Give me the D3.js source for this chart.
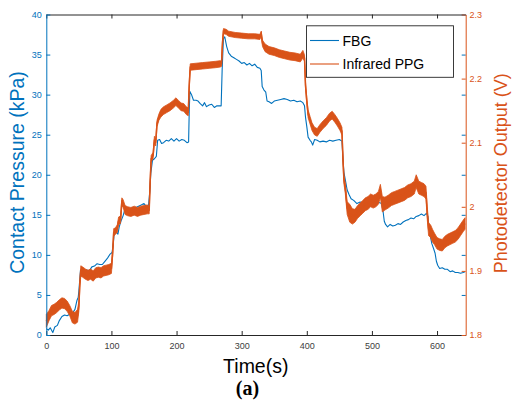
<!DOCTYPE html>
<html><head><meta charset="utf-8">
<script src="https://cdn.jsdelivr.net/npm/d3@7/dist/d3.min.js"></script>
<style>body{margin:0;background:#fff}svg{display:block}text{font-family:"Liberation Sans",Arial,sans-serif}</style>
</head><body>
<svg id="c" width="513" height="408"></svg>
<script>
// ---- data ----
const fbgTime = [0,3,6,10,13,17,20,24,28,32,36,40,44,47,49,50,51.5,52.5,55,58,62,66,70,74,78,82,86,90,94,98,101,103,104,107,110,112,115,118,120,124,128,132,136,140,145,150,154,157,159,160.5,163,166,169,171,174,177,180,184,188,192,196,200,204,208,212,216,218.5,219.5,220.5,223,226,230,233,236,240,243,246,250,254,258,262,266,268.5,270,272,274,277,280,284,288,292,296,300,304,308,312,316,320,324,328,330,331.5,334,337,339,342,346,350,355,360,365,370,375,380,385,390,394,396.5,398,400,402,405,407,409,412,416,420,425,430,435,440,445,450,454,455.5,457,460,462,465,468,472,477,482,487,492,497,502,507,512,515,517,519,521,524,528,532,536,540,544,548,552,556,560,564,568,572,576,580,584,586,588,590,592,595,597,599,601,604,608,612,616,620,624,628,632,636,640,643];
const fbgPressure = [0.8,0.6,0.9,0.3,1.0,1.2,1.8,2.3,2.5,2.4,2.6,2.7,3.2,4.3,4.7,5.5,7.0,8.1,7.8,7.9,8.1,8.0,8.5,8.6,8.9,8.8,8.8,9.2,9.6,10.1,10.3,11.5,12.5,12.9,12.6,13.5,14.3,14.9,15.5,15.9,15.7,15.9,15.8,16.0,16.2,16.4,16.0,16.2,18,20.2,21.8,22.0,22.3,24.3,24.4,23.9,24.0,24.3,24.2,24.5,24.2,24.5,24.2,24.4,24.3,24.0,24.1,28,30.4,30.0,29.3,29.3,29.2,28.9,28.6,29.0,28.5,28.7,28.8,28.4,28.6,28.6,28.6,33,37.0,37.2,36.0,35.2,34.8,34.6,34.4,34.2,33.9,34.0,33.7,33.9,33.6,33.8,33.4,33.3,33.0,31.0,30.6,30.3,29.2,29.1,28.9,29.2,29.3,29.4,29.5,29.4,29.2,29.3,29.1,29.2,29.0,28.6,27.2,26.0,24.7,24.3,24.1,23.7,24.4,24.3,24.1,24.2,24.1,24.3,24.2,24.3,24.4,24.2,22.0,20.3,19.0,18.1,17.5,17.0,16.8,16.4,16.6,16.5,16.7,16.8,16.7,16.6,16.5,16.4,15.5,14.2,13.8,13.5,13.8,13.6,13.7,13.9,13.8,14.1,14.3,14.4,14.6,14.5,14.8,14.9,15.1,14.9,15.2,14.8,13.2,12.2,11.4,10.7,10.2,9.2,8.7,8.3,8.4,8.2,8.2,7.9,8.0,7.8,7.8,7.7,7.8,7.9];

const ppgTime = [0,4,8,12,16,20,24,28,32,36,40,44,48,50,51.5,53,56,60,64,68,72,76,80,84,88,92,96,100,102,103.5,106,109,111,114,116,118,121,125,130,135,140,145,150,155,158,159.5,161,164,166,168,170,173,176,180,185,190,195,199,203,207,211,215,218,219.5,221,230,240,250,260,267,269,270.5,272,276,280,290,300,310,320,328,330,332,336,342,350,358,366,374,382,390,394,396.5,398,400,402,405,408,412,416,420,425,430,435,439,443,447,451,454,455.5,457,459,462,466,470,474,478,482,486,490,494,498,502,506,510,513,516,520,525,530,535,540,545,550,555,560,565,568,572,576,580,583,585,587,590,593,596,600,604,608,612,616,620,624,628,632,636,640,643];
const ppgVolt = [1.822,1.830,1.838,1.840,1.843,1.847,1.850,1.849,1.845,1.838,1.828,1.826,1.830,1.845,1.880,1.900,1.898,1.895,1.893,1.895,1.892,1.897,1.898,1.897,1.900,1.901,1.902,1.904,1.930,1.960,1.962,1.966,1.978,1.980,2.008,2.005,1.995,1.993,1.992,1.994,1.992,1.994,1.995,1.996,1.995,2.040,2.075,2.080,2.105,2.100,2.130,2.140,2.146,2.150,2.153,2.156,2.160,2.164,2.160,2.156,2.155,2.150,2.148,2.190,2.218,2.219,2.220,2.221,2.222,2.223,2.223,2.255,2.274,2.273,2.270,2.268,2.267,2.266,2.266,2.265,2.270,2.255,2.248,2.244,2.242,2.239,2.237,2.235,2.234,2.232,2.238,2.232,2.190,2.165,2.145,2.135,2.125,2.118,2.116,2.122,2.128,2.133,2.140,2.143,2.138,2.132,2.125,2.118,2.075,2.042,2.030,1.998,1.990,1.985,1.986,1.992,1.996,2.000,2.004,2.006,2.010,2.008,2.010,2.014,2.025,2.004,2.005,2.008,2.012,2.014,2.016,2.018,2.020,2.024,2.026,2.030,2.040,2.030,2.028,2.026,2.022,1.990,1.965,1.962,1.955,1.950,1.943,1.941,1.940,1.945,1.948,1.950,1.952,1.954,1.958,1.964,1.970,1.974];
// half-width of the noise band of the PPG trace (V)
const ppgNoise = [0.010,0.008,0.008,0.008,0.008,0.008,0.008,0.008,0.008,0.008,0.009,0.009,0.010,0.008,0.006,0.008,0.008,0.008,0.008,0.008,0.008,0.008,0.008,0.008,0.008,0.008,0.008,0.008,0.006,0.006,0.005,0.006,0.006,0.006,0.006,0.006,0.007,0.007,0.007,0.007,0.007,0.007,0.007,0.007,0.006,0.005,0.005,0.005,0.005,0.005,0.005,0.005,0.006,0.006,0.006,0.006,0.006,0.006,0.006,0.006,0.006,0.006,0.006,0.005,0.005,0.005,0.005,0.005,0.005,0.005,0.004,0.004,0.004,0.004,0.004,0.004,0.004,0.004,0.004,0.004,0.004,0.005,0.006,0.006,0.006,0.006,0.006,0.006,0.006,0.006,0.006,0.005,0.005,0.005,0.006,0.006,0.006,0.006,0.006,0.006,0.006,0.006,0.006,0.006,0.006,0.006,0.006,0.006,0.006,0.006,0.008,0.010,0.014,0.012,0.010,0.010,0.010,0.010,0.010,0.010,0.010,0.010,0.010,0.010,0.010,0.012,0.010,0.010,0.010,0.010,0.010,0.010,0.010,0.010,0.010,0.010,0.010,0.010,0.010,0.010,0.010,0.010,0.010,0.010,0.010,0.009,0.009,0.009,0.009,0.009,0.009,0.009,0.009,0.009,0.009,0.009,0.009,0.009,0.009];

const xTicks = [0,100,200,300,400,500,600];
const leftTicks = [0,5,10,15,20,25,30,35,40];
const rightTicks = [1.8,1.9,2.0,2.1,2.2,2.3];
const legendLabels = ["FBG","Infrared PPG"];

// ---- drawing ----
const BLUE = "#0072BD", ORANGE = "#D95319", DARK = "#262626";
const L = 46.3, R = 465.7, T = 14.5, B = 335;
const svg = d3.select("#c");
const x = d3.scaleLinear().domain([0,644]).range([L,R]);
const yL = d3.scaleLinear().domain([0,40]).range([B,T]);
const yR = d3.scaleLinear().domain([1.8,2.3]).range([B,T]);

const fbg = fbgTime.map((t,i)=>({t, v:fbgPressure[i]}));
const ppg = ppgTime.map((t,i)=>({t, v:ppgVolt[i], n:ppgNoise[i]}));

const plot = svg.append("g");
plot.append("path").datum(fbg)
  .attr("d", d3.line().x(d=>x(d.t)).y(d=>yL(d.v)))
  .attr("fill","none").attr("stroke",BLUE).attr("stroke-width",1.1).attr("stroke-linejoin","round");
plot.append("path").datum(ppg)
  .attr("d", d3.area().x(d=>x(d.t)).y0(d=>yR(d.v-d.n)).y1(d=>yR(d.v+d.n)))
  .attr("fill",ORANGE).attr("stroke",ORANGE).attr("stroke-width",0.8).attr("stroke-linejoin","round");
plot.append("path").datum(ppg)
  .attr("d", d3.line().x(d=>x(d.t)).y(d=>yR(d.v)))
  .attr("fill","none").attr("stroke",ORANGE).attr("stroke-width",1.5);

function style(g, color){
  g.selectAll("path.domain").attr("stroke",color).attr("stroke-width",1);
  g.selectAll(".tick line").attr("stroke",color).attr("stroke-width",1);
  g.selectAll(".tick text").attr("fill",color).attr("font-family","Liberation Sans, Arial, sans-serif").attr("font-size",9);
}
// bottom
const gB = svg.append("g").attr("transform",`translate(0,${B})`)
  .call(d3.axisBottom(x).tickValues(xTicks).tickSize(-4).tickSizeOuter(0).tickPadding(8).tickFormat(d3.format("d")));
style(gB, DARK); gB.selectAll(".tick text").attr("fill","#404040");
// top
const gT = svg.append("g").attr("transform",`translate(0,${T})`)
  .call(d3.axisTop(x).tickValues(xTicks).tickSize(-4).tickSizeOuter(0).tickFormat(""));
style(gT, DARK);
// right: mirrored left ticks (blue)
const gRL = svg.append("g").attr("transform",`translate(${R},0)`)
  .call(d3.axisRight(yL).tickValues(leftTicks).tickSize(-4).tickSizeOuter(0).tickFormat(""));
style(gRL, BLUE); gRL.select("path.domain").remove();
// left
const gL = svg.append("g").attr("transform",`translate(${L},0)`)
  .call(d3.axisLeft(yL).tickValues(leftTicks).tickSize(-4).tickSizeOuter(0).tickPadding(4.5));
style(gL, BLUE);
// right
const gR = svg.append("g").attr("transform",`translate(${R},0)`)
  .call(d3.axisRight(yR).tickValues(rightTicks).tickSize(-4).tickSizeOuter(0).tickPadding(3.8).tickFormat(d=>d3.format(".1f")(d).replace(/\.0$/,"")));
style(gR, ORANGE);

// legend
const lg = svg.append("g");
lg.append("rect").attr("x",306.5).attr("y",25.8).attr("width",147).attr("height",51.5)
  .attr("fill","#fff").attr("stroke",DARK).attr("stroke-width",0.9);
const lgColors = [BLUE, ORANGE];
legendLabels.forEach((lab,i)=>{
  const cy = 40.5 + i*23.5;
  lg.append("line").attr("x1",310).attr("x2",339).attr("y1",cy).attr("y2",cy)
    .attr("stroke",lgColors[i]).attr("stroke-width",1.1);
  lg.append("text").attr("x",342.5).attr("y",cy+5).attr("font-size",14).attr("fill","#000").text(lab);
});

// axis titles
svg.append("text").attr("transform","translate(24,172.5) rotate(-90)").attr("text-anchor","middle")
  .attr("font-size",19.5).attr("fill",BLUE).text("Contact Pressure (kPa)");
svg.append("text").attr("transform","translate(506.5,173.3) rotate(-90)").attr("text-anchor","middle")
  .attr("font-size",18).attr("fill",ORANGE).text("Photodetector Output (V)");
svg.append("text").attr("x",255.8).attr("y",372.5).attr("text-anchor","middle")
  .attr("font-size",19.5).attr("fill","#000").text("Time(s)");
svg.append("text").attr("x",247.5).attr("y",395).attr("text-anchor","middle")
  .attr("font-size",20).attr("font-weight","bold").attr("fill","#000")
  .style("font-family","'Liberation Serif','Times New Roman',serif").text("(a)");
</script>
</body></html>
